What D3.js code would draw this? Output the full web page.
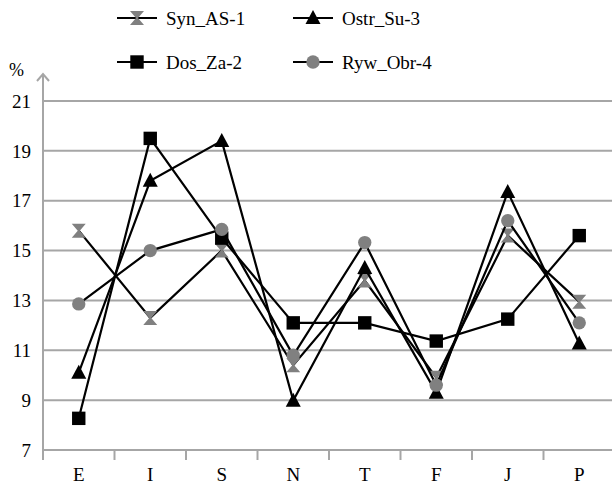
<!DOCTYPE html>
<html>
<head>
<meta charset="utf-8">
<script src="https://cdn.jsdelivr.net/npm/d3@7"></script>
<style>
  body { margin: 0; background: #fff; }
</style>
</head>
<body>
<div id="chart"></div>
<script>
const categories = ["E", "I", "S", "N", "T", "F", "J", "P"];
const yTicks = [7, 9, 11, 13, 15, 17, 19, 21];
const seriesNames = ["Syn_AS-1", "Dos_Za-2", "Ostr_Su-3", "Ryw_Obr-4"];
const synAS1 = [15.8, 12.3, 15.0, 10.4, 13.8, 9.9, 15.6, 12.95];
const dosZa2 = [8.27, 19.5, 15.5, 12.1, 12.1, 11.37, 12.25, 15.6];
const ostrSu3 = [10.1, 17.8, 19.4, 8.98, 14.3, 9.3, 17.35, 11.27];
const rywObr4 = [12.86, 15.0, 15.85, 10.8, 15.32, 9.6, 16.2, 12.1];

const width = 612, height = 485;
const margin = { top: 101, left: 43, bottom: 35, right: -3 };
const serif = "'Liberation Serif', 'Times New Roman', Times, 'DejaVu Serif', serif";

const svg = d3.select("#chart").append("svg")
    .attr("width", width)
    .attr("height", height)
    .attr("font-family", serif)
    .style("font-family", serif);

const x = d3.scaleBand()
    .domain(categories)
    .range([margin.left, width - margin.right]);

const y = d3.scaleLinear()
    .domain([7, 21])
    .range([height - margin.bottom, margin.top]);

const gridColor = "#a6a6a6";
const grey = "#808080";

// horizontal grid
svg.append("g")
    .selectAll("line")
    .data(yTicks.slice(1))
    .join("line")
    .attr("x1", margin.left)
    .attr("x2", width)
    .attr("y1", d => y(d))
    .attr("y2", d => y(d))
    .attr("stroke", gridColor)
    .attr("stroke-width", 2);

// y tick labels
svg.append("g")
    .selectAll("text")
    .data(yTicks)
    .join("text")
    .attr("x", 31)
    .attr("y", d => y(d))
    .attr("dy", "0.35em")
    .attr("text-anchor", "end")
    .style("font-size", "19px")
    .text(d => d);

// x axis line + ticks at band boundaries
const xAxisY = y(7);
svg.append("line")
    .attr("x1", margin.left).attr("x2", width)
    .attr("y1", xAxisY).attr("y2", xAxisY)
    .attr("stroke", gridColor).attr("stroke-width", 2);

svg.append("g")
    .selectAll("line")
    .data(categories.slice(1))
    .join("line")
    .attr("x1", d => x(d)).attr("x2", d => x(d))
    .attr("y1", xAxisY).attr("y2", xAxisY + 10)
    .attr("stroke", gridColor).attr("stroke-width", 2);

svg.append("g")
    .selectAll("text")
    .data(categories)
    .join("text")
    .attr("x", d => x(d) + x.bandwidth() / 2)
    .attr("y", 481)
    .attr("text-anchor", "middle")
    .style("font-size", "19px")
    .text(d => d);

// y axis with arrow
svg.append("line")
    .attr("x1", margin.left).attr("x2", margin.left)
    .attr("y1", xAxisY + 10).attr("y2", 74)
    .attr("stroke", gridColor).attr("stroke-width", 2);
svg.append("path")
    .attr("d", `M${margin.left - 6},${81} L${margin.left},${74} L${margin.left + 6},${81}`)
    .attr("fill", "none")
    .attr("stroke", gridColor)
    .attr("stroke-width", 2);
svg.append("text")
    .attr("x", 9)
    .attr("y", 76)
    .style("font-size", "18px")
    .text("%");

// markers
const symbols = {
    "Syn_AS-1": { d: "M-7,-7L7,-7L1,0L7,7L-7,7L-1,0Z", fill: grey },
    "Dos_Za-2": { d: d3.symbol(d3.symbolSquare, 180)(), fill: "#000" },
    "Ostr_Su-3": { d: "M0,-8L7.5,6L-7.5,6Z", fill: "#000" },
    "Ryw_Obr-4": { d: d3.symbol(d3.symbolCircle, 140)(), fill: grey }
};

const series = [synAS1, dosZa2, ostrSu3, rywObr4].map((vals, i) => ({
    name: seriesNames[i],
    values: vals.map((v, j) => ({ cat: categories[j], v }))
}));

const line = d3.line()
    .x(d => x(d.cat) + x.bandwidth() / 2)
    .y(d => y(d.v));

const g = svg.append("g");
series.forEach(s => {
    g.append("path")
        .datum(s.values)
        .attr("d", line)
        .attr("fill", "none")
        .attr("stroke", "#000")
        .attr("stroke-width", 2.2);
    g.append("g")
        .selectAll("path")
        .data(s.values)
        .join("path")
        .attr("transform", d => `translate(${x(d.cat) + x.bandwidth() / 2},${y(d.v)})`)
        .attr("d", symbols[s.name].d)
        .attr("fill", symbols[s.name].fill);
});

// legend: column-first layout
const legendPos = [
    { x: 117, y: 18 }, { x: 117, y: 62 },
    { x: 293, y: 18 }, { x: 293, y: 62 }
];
seriesNames.forEach((name, i) => {
    const p = legendPos[i];
    const lg = svg.append("g").attr("transform", `translate(${p.x},${p.y})`);
    lg.append("line")
        .attr("x1", 0).attr("x2", 40)
        .attr("stroke", "#000").attr("stroke-width", 2.2);
    lg.append("path")
        .attr("transform", "translate(20,0)")
        .attr("d", symbols[name].d)
        .attr("fill", symbols[name].fill);
    lg.append("text")
        .attr("x", 49)
        .attr("dy", "0.35em")
        .style("font-size", "19px")
        .text(name);
});
</script>
</body>
</html>
